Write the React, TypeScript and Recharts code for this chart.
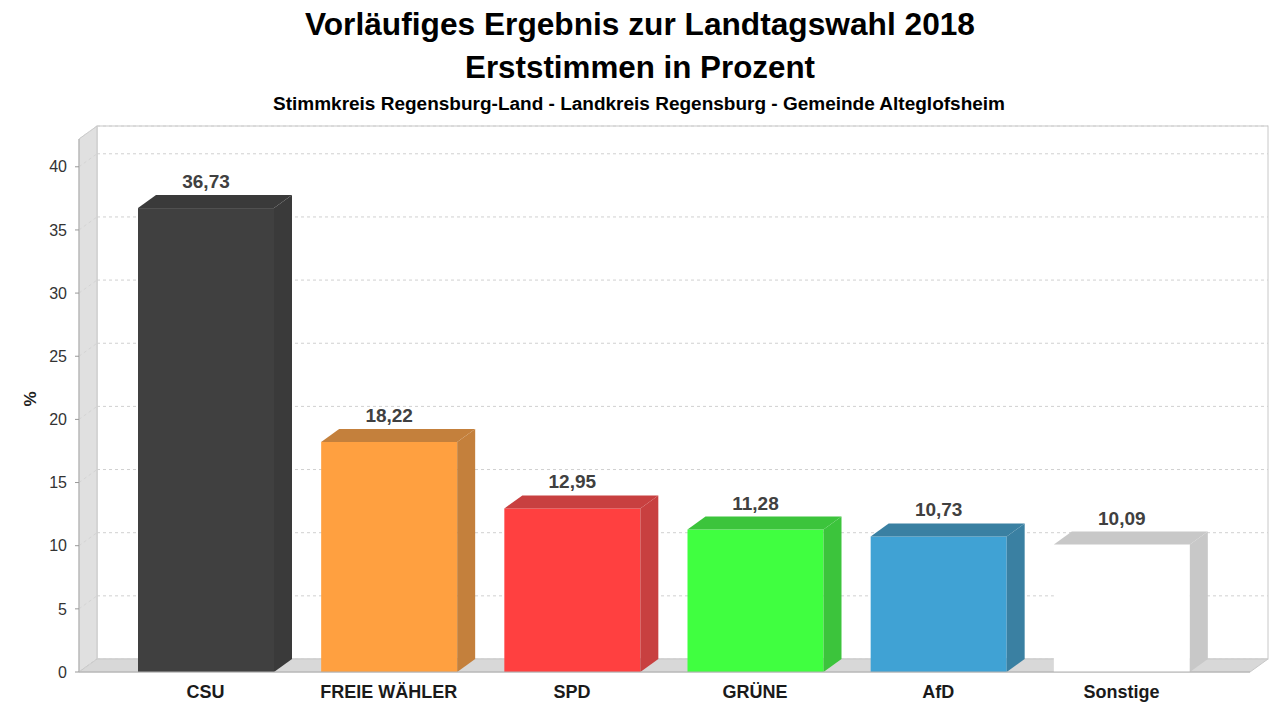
import React from 'react';
import { BarChart, Bar, XAxis, YAxis, CartesianGrid, LabelList } from 'recharts';

const PARTIES = ['CSU', 'FREIE WÄHLER', 'SPD', 'GRÜNE', 'AfD', 'Sonstige'];
const VOTES = [36.73, 18.22, 12.95, 11.28, 10.73, 10.09];
const Y_TICKS = [0, 5, 10, 15, 20, 25, 30, 35, 40];

const FRONT = ['#404040', '#ffa040', '#ff4040', '#40ff40', '#40a2d4', '#ffffff'];
const SHADE = ['#3a3a3a', '#c4803c', '#c84040', '#3cc43c', '#3a80a2', '#c8c8c8'];

const W = 1280;
const H = 720;
// plot box (front plane) and 3D depth
const LEFT = 79;
const TOP = 139;
const RIGHT = 1250;
const BOTTOM = 672;
const DX = 18;
const DY = 13;

const FONT = '"Liberation Sans", Arial, sans-serif';

const data = PARTIES.map((party, i) => ({ party, value: VOTES[i] }));

const fmt = (v: number) => v.toFixed(2).replace('.', ',');

const Bar3D: React.FC<any> = ({ x, y, width, height, payload }) => {
  const i = PARTIES.indexOf(payload.party);
  const front = FRONT[i];
  const shade = SHADE[i];
  const r = x + width;
  const b = y + height;
  return (
    <g>
      <rect x={x} y={y} width={width} height={height} fill={front} />
      <polygon
        points={`${x},${y} ${x + DX},${y - DY} ${r + DX},${y - DY} ${r},${y}`}
        fill={shade}
      />
      <polygon
        points={`${r},${y} ${r + DX},${y - DY} ${r + DX},${b - DY} ${r},${b}`}
        fill={shade}
      />
    </g>
  );
};

const ValueLabel: React.FC<any> = ({ x, y, width, value }) => (
  <text
    x={x + width / 2}
    y={y - 20}
    textAnchor="middle"
    fontFamily={FONT}
    fontWeight="bold"
    fontSize={19}
    fill="#404040"
  >
    {fmt(value)}
  </text>
);

const gridLine = (p: any) => (
  <g key={p.key}>
    <line
      x1={p.x1 + DX}
      y1={p.y1 - DY}
      x2={p.x2 + DX}
      y2={p.y1 - DY}
      stroke="#d0d0d0"
      strokeDasharray="3 3"
    />
    <line x1={p.x1} y1={p.y1} x2={p.x1 + DX} y2={p.y1 - DY} stroke="#d4d4d4" strokeDasharray="3 3" />
  </g>
);

const Walls = () => (
  <svg width={W} height={H} style={{ position: 'absolute', left: 0, top: 0 }}>
    <rect x={LEFT + DX} y={TOP - DY} width={RIGHT - LEFT} height={BOTTOM - TOP} fill="#ffffff" stroke="#c8c8c8" />
    <polygon
      points={`${LEFT},${TOP} ${LEFT + DX},${TOP - DY} ${LEFT + DX},${BOTTOM - DY} ${LEFT},${BOTTOM}`}
      fill="#e0e0e0"
      stroke="#c8c8c8"
    />
    <polygon
      points={`${LEFT},${BOTTOM} ${LEFT + DX},${BOTTOM - DY} ${RIGHT + DX},${BOTTOM - DY} ${RIGHT},${BOTTOM}`}
      fill="#d8d8d8"
      stroke="#c8c8c8"
    />
  </svg>
);

const Titles = () => (
  <svg width={W} height={H} style={{ position: 'absolute', left: 0, top: 0, pointerEvents: 'none' }}>
    <g fontFamily={FONT} fontWeight="bold" fill="#000" textAnchor="middle">
      <text x={640} y={35} fontSize={31} textLength={670} lengthAdjust="spacingAndGlyphs">
        Vorläufiges Ergebnis zur Landtagswahl 2018
      </text>
      <text x={640} y={78} fontSize={31} textLength={350} lengthAdjust="spacingAndGlyphs">
        Erststimmen in Prozent
      </text>
      <text x={639} y={110} fontSize={18} textLength={732} lengthAdjust="spacingAndGlyphs">
        Stimmkreis Regensburg-Land - Landkreis Regensburg - Gemeinde Alteglofsheim
      </text>
      <text transform="translate(36,399) rotate(-90)" fontSize={17} fill="#222">
        %
      </text>
    </g>
  </svg>
);

const App: React.FC = () => (
  <div style={{ position: 'relative', width: W, height: H, background: '#fff', fontFamily: FONT }}>
    <style>{'body{margin:0}'}</style>
    <Walls />
    <div style={{ position: 'absolute', left: 0, top: 0 }}>
      <BarChart
        width={W}
        height={H}
        data={data}
        margin={{ top: TOP, right: W - RIGHT, bottom: 0, left: 0 }}
      >
        <CartesianGrid vertical={false} horizontal={gridLine} />
        <XAxis
          dataKey="party"
          height={H - BOTTOM}
          padding={{ left: 35, right: 37 }}
          tickLine={false}
          axisLine={{ stroke: '#b0b0b0' }}
          tickMargin={7}
          tick={{ fontFamily: FONT, fontWeight: 'bold', fontSize: 18, fill: '#1a1a1a' }}
          interval={0}
        />
        <YAxis
          width={LEFT}
          domain={[0, 42.2]}
          ticks={Y_TICKS}
          tickSize={4}
          tickMargin={8}
          tickLine={{ stroke: '#999' }}
          axisLine={{ stroke: '#b0b0b0' }}
          tick={{ fontFamily: FONT, fontSize: 16, fill: '#333' }}
        />
        <Bar dataKey="value" barSize={136} shape={Bar3D} isAnimationActive={false}>
          <LabelList dataKey="value" content={ValueLabel} />
        </Bar>
      </BarChart>
    </div>
    <Titles />
  </div>
);

export default App;
